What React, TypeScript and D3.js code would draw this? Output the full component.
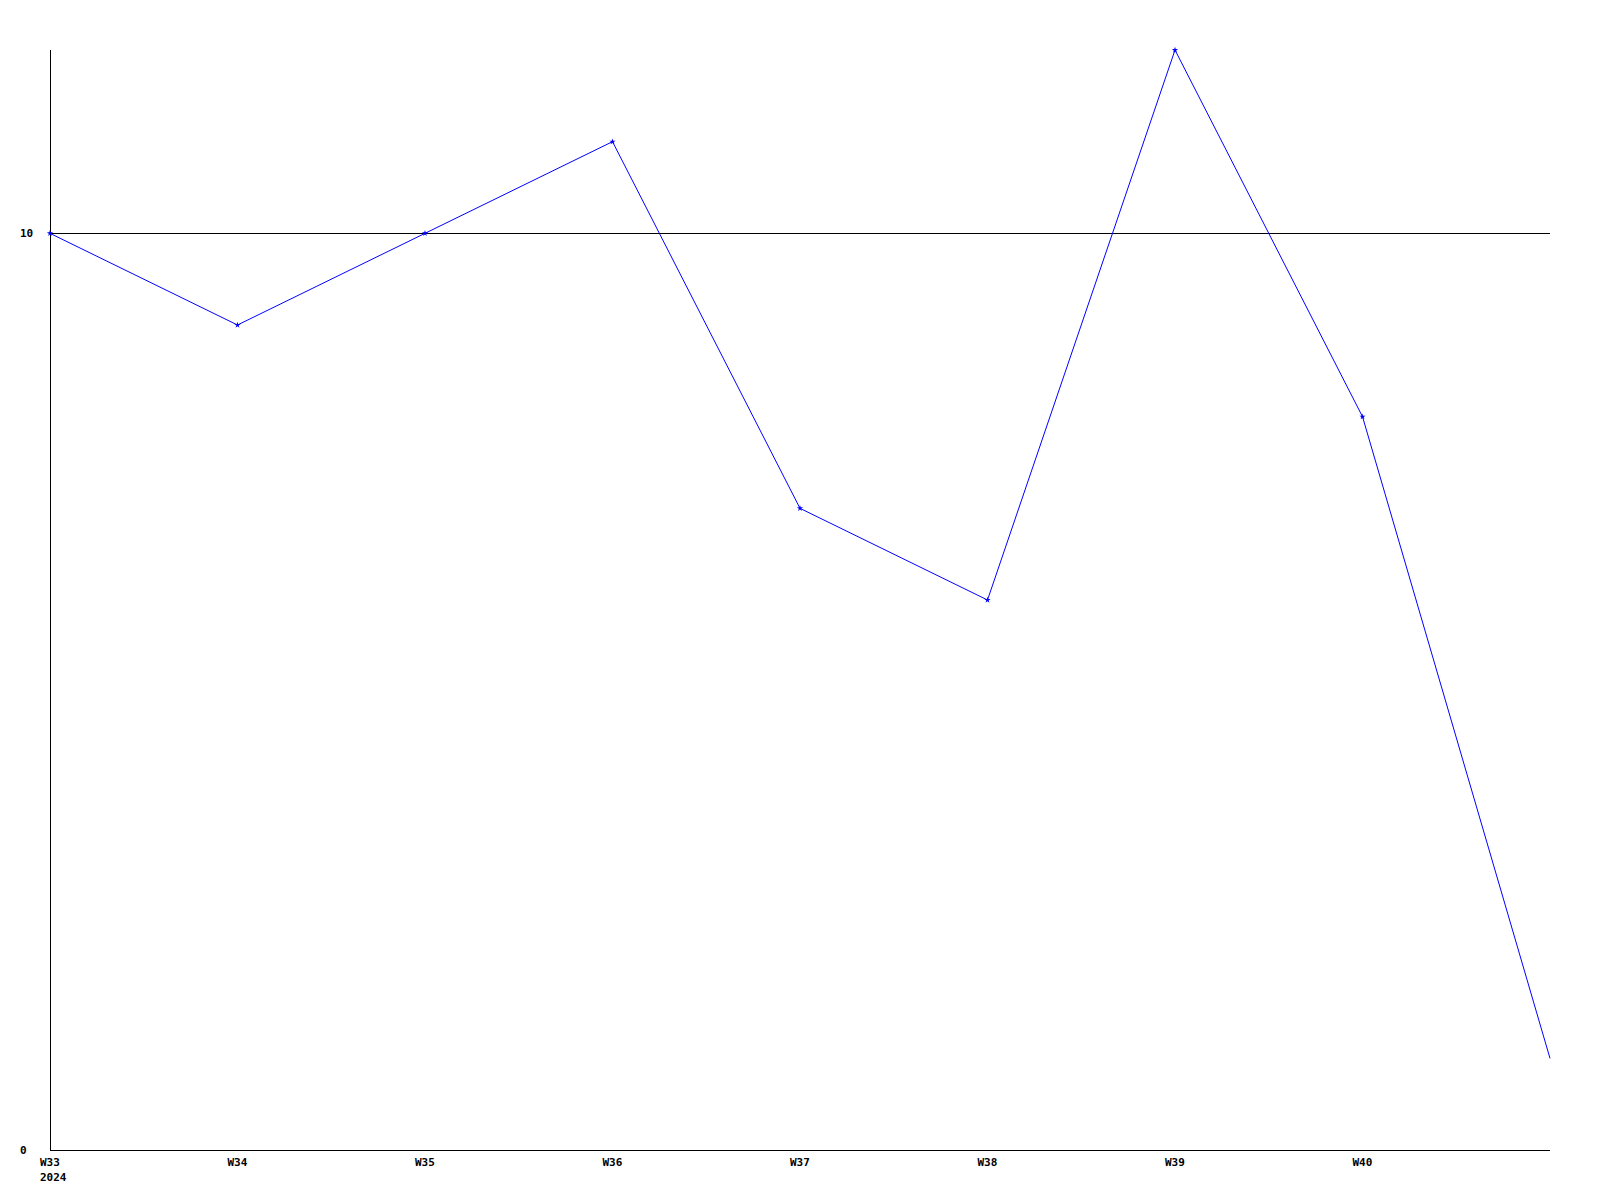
import React from "react";
import * as d3 from "d3";

const weeks = ["W33", "W34", "W35", "W36", "W37", "W38", "W39", "W40", "W41"];
const weekLabels = ["W33", "W34", "W35", "W36", "W37", "W38", "W39", "W40"];
const values = [10, 9, 10, 11, 7, 6, 12, 8, 1];
const markerShown = [true, true, true, true, true, true, true, true, false];
const yTicks = [0, 10];
const refValue = 10;
const yearLabel = "2024";

export default function App() {
  const W = 1600, H = 1200;
  const left = 50, right = 1550, top = 50, bottom = 1150;
  const x = d3.scalePoint<string>().domain(weeks).range([left, right]);
  const y = d3.scaleLinear().domain([0, 12]).range([bottom, top]);
  const line = d3.line<number>().x((_, i) => x(weeks[i])!).y((d) => y(d));
  const font = "'DejaVu Sans Mono', monospace";
  return (
    <svg width={W} height={H} style={{ position: "absolute", left: 0, top: 0, background: "#fff" }}>
      <line x1={left} x2={left} y1={top} y2={bottom} stroke="#000" strokeWidth={1} shapeRendering="crispEdges" />
      <line x1={left} x2={right} y1={bottom} y2={bottom} stroke="#000" strokeWidth={1} shapeRendering="crispEdges" />
      <line x1={left} x2={right} y1={y(refValue)} y2={y(refValue)} stroke="#000" strokeWidth={1} shapeRendering="crispEdges" />
      {yTicks.map((t) => (
        <text key={t} x={20} y={y(t) + 4} fontFamily={font} fontWeight="bold" fontSize={11} fill="#000">{t}</text>
      ))}
      {weekLabels.map((w) => (
        <text key={w} x={x(w)! - 10} y={bottom + 16} fontFamily={font} fontWeight="bold" fontSize={11} fill="#000">{w}</text>
      ))}
      <text x={x(weeks[0])! - 10} y={bottom + 31} fontFamily={font} fontWeight="bold" fontSize={11} fill="#000">{yearLabel}</text>
      <path d={line(values)!} fill="none" stroke="#0000ff" strokeWidth={1} />
      {values.map((v, i) =>
        markerShown[i] ? (
          <path key={i} d={d3.symbol(d3.symbolStar, 12)()!} transform={`translate(${x(weeks[i])},${y(v)})`} fill="#0000ff" />
        ) : null
      )}
    </svg>
  );
}
